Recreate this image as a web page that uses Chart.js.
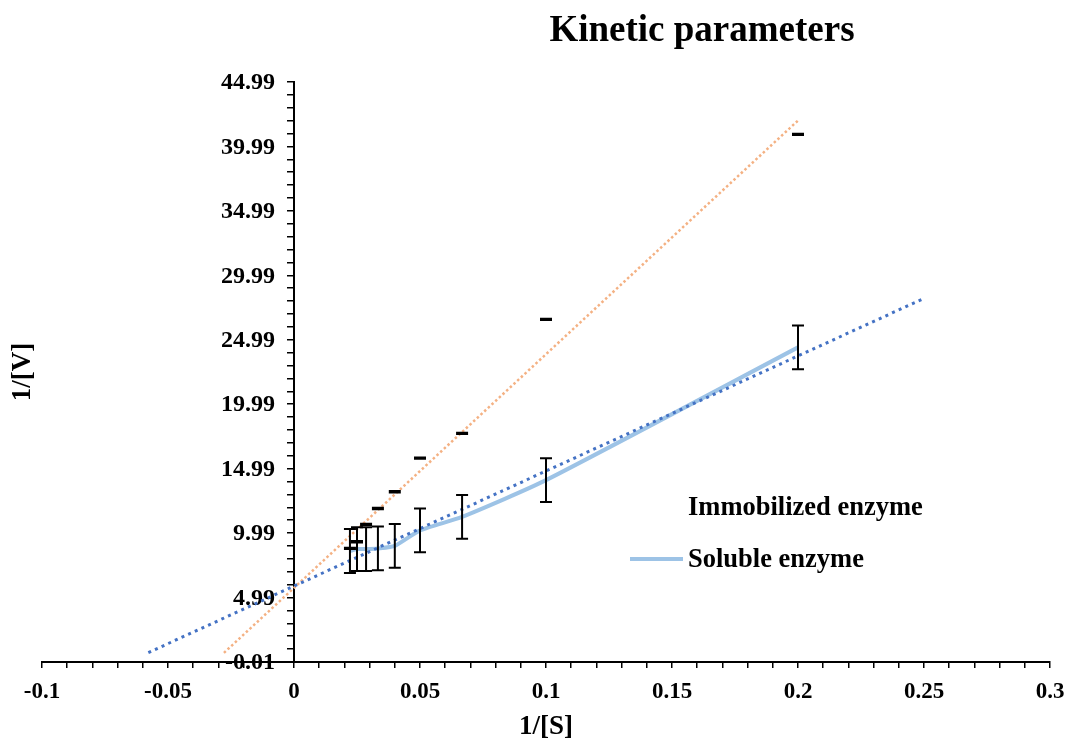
<!DOCTYPE html>
<html>
<head>
<meta charset="utf-8">
<script src="https://cdn.jsdelivr.net/npm/chart.js@4"></script>
<style>
  body { margin: 0; background: #fff; }
  #wrap { width: 1071px; height: 741px; position: relative; }
</style>
</head>
<body>
<div id="wrap"><canvas id="kinetic-chart"></canvas></div>
<script>
// 1/[S] values (S = 45, 40, 35, 30, 25, 20, 15, 10, 5)
const invS = [0.0222, 0.025, 0.0286, 0.0333, 0.04, 0.05, 0.0667, 0.1, 0.2];
const immobilizedInvV = [8.81, 9.32, 10.67, 11.9, 13.2, 15.8, 17.73, 26.58, 40.92];
const immobilizedErr = [0.05, 0.05, 0.05, 0.05, 0.05, 0.05, 0.05, 0.05, 0.05];
const solubleInvV = [8.6, 8.75, 8.75, 8.8, 9.0, 10.2, 11.25, 14.1, 24.4];
const solubleErr = [1.7, 1.7, 1.7, 1.7, 1.7, 1.7, 1.7, 1.7, 1.7];

// trendline ends
const solubleTrendX = [-0.0578, 0.25];
const solubleTrendY = [0.72, 28.2];
const immobilizedTrendX = [-0.0278, 0.2];
const immobilizedTrendY = [0.7, 42.0];

const xTickLabels = ['-0.1', '-0.05', '0', '0.05', '0.1', '0.15', '0.2', '0.25', '0.3'];
const yTickLabels = ['-0.01', '4.99', '9.99', '14.99', '19.99', '24.99', '29.99', '34.99', '39.99', '44.99'];

const serif = "'Liberation Serif', 'Times New Roman', serif";

function toPoints(xs, ys) {
  return xs.map((x, i) => ({ x: x, y: ys[i] }));
}

const errorBars = {
  'Immobilized enzyme': immobilizedErr,
  'Soluble enzyme': solubleErr
};

const extrasPlugin = {
  id: 'extras',
  beforeDatasetsDraw(chart) {
    // y tick labels: the axis sits at x = 0, so Chart.js would glue them to the line
    const ctx = chart.ctx;
    const yScale = chart.scales.y;
    const axisX = chart.scales.x.getPixelForValue(0);
    ctx.save();
    ctx.fillStyle = '#000';
    ctx.font = 'bold 24px ' + serif;
    ctx.textAlign = 'right';
    ctx.textBaseline = 'middle';
    yScale.ticks.forEach((t, i) => {
      if (i % 5 !== 0) return;
      ctx.fillText(yTickLabels[i / 5], axisX - 19, yScale.getPixelForValue(t.value) + 1);
    });
    ctx.restore();
  },
  afterDatasetsDraw(chart) {
    const ctx = chart.ctx;
    const yScale = chart.scales.y;
    ctx.save();
    ctx.strokeStyle = '#000';
    ctx.lineWidth = 2;
    chart.data.datasets.forEach((ds, di) => {
      const errs = errorBars[ds.label];
      if (!errs) return;
      const meta = chart.getDatasetMeta(di);
      meta.data.forEach((pt, i) => {
        const v = ds.data[i].y;
        const top = yScale.getPixelForValue(v + errs[i]);
        const bottom = yScale.getPixelForValue(v - errs[i]);
        ctx.beginPath();
        ctx.moveTo(pt.x, top);
        ctx.lineTo(pt.x, bottom);
        ctx.moveTo(pt.x - 6, top);
        ctx.lineTo(pt.x + 6, top);
        ctx.moveTo(pt.x - 6, bottom);
        ctx.lineTo(pt.x + 6, bottom);
        ctx.stroke();
      });
    });
    ctx.restore();
  },
  afterDraw(chart) {
    const ctx = chart.ctx;
    const area = chart.chartArea;
    ctx.save();
    ctx.fillStyle = '#000';

    // title
    ctx.font = 'bold 37px ' + serif;
    ctx.textAlign = 'center';
    ctx.textBaseline = 'middle';
    ctx.fillText('Kinetic parameters', 702, 31);

    // y axis title
    ctx.font = 'bold 27px ' + serif;
    ctx.translate(23, (area.top + area.bottom) / 2);
    ctx.rotate(-Math.PI / 2);
    ctx.fillText('1/[V]', 0, 0);
    ctx.setTransform(1, 0, 0, 1, 0, 0);

    // legend
    ctx.font = 'bold 26.5px ' + serif;
    ctx.textAlign = 'left';
    ctx.fillText('Immobilized enzyme', 688, 508);
    ctx.fillText('Soluble enzyme', 688, 560);
    ctx.strokeStyle = '#9DC3E6';
    ctx.lineWidth = 4;
    ctx.beginPath();
    ctx.moveTo(630, 559);
    ctx.lineTo(683, 559);
    ctx.stroke();
    ctx.restore();
  }
};

new Chart(document.getElementById('kinetic-chart').getContext('2d'), {
  type: 'scatter',
  data: {
    datasets: [
      {
        label: 'Soluble trend',
        data: toPoints(solubleTrendX, solubleTrendY),
        showLine: true,
        borderColor: '#4472C4',
        borderWidth: 3,
        borderDash: [3, 4.3],
        pointRadius: 0
      },
      {
        label: 'Immobilized trend',
        data: toPoints(immobilizedTrendX, immobilizedTrendY),
        showLine: true,
        borderColor: '#F4B183',
        borderWidth: 2.5,
        borderDash: [2.5, 2.5],
        pointRadius: 0
      },
      {
        label: 'Soluble enzyme',
        data: toPoints(invS, solubleInvV),
        showLine: true,
        borderColor: '#9DC3E6',
        borderWidth: 4,
        tension: 0.2,
        pointRadius: 0
      },
      {
        label: 'Immobilized enzyme',
        data: toPoints(invS, immobilizedInvV),
        showLine: false,
        pointRadius: 0
      }
    ]
  },
  options: {
    responsive: true,
    maintainAspectRatio: false,
    animation: false,
    layout: {
      padding: { left: 42, right: 21, top: 82, bottom: 0 }
    },
    plugins: {
      legend: { display: false },
      title: { display: false },
      tooltip: { enabled: false }
    },
    scales: {
      x: {
        type: 'linear',
        min: -0.1,
        max: 0.3,
        afterBuildTicks: axis => {
          const ticks = [];
          for (let i = 0; i <= 40; i++) {
            ticks.push({ value: Math.round((-0.1 + i * 0.01) * 1000) / 1000 });
          }
          axis.ticks = ticks;
        },
        ticks: {
          autoSkip: false,
          maxRotation: 0,
          padding: 2,
          color: '#000',
          font: { family: serif, size: 23, weight: 'bold', lineHeight: '44px' },
          callback: (value, index) => index % 5 === 0 ? xTickLabels[index / 5] : ''
        },
        grid: { drawOnChartArea: false, tickLength: 6, color: '#000', lineWidth: 1.5 },
        border: { color: '#000', width: 2 },
        title: {
          display: true,
          text: '1/[S]',
          color: '#000',
          font: { family: serif, size: 27, weight: 'bold', lineHeight: 1 },
          padding: { top: -2, bottom: 0 }
        }
      },
      y: {
        type: 'linear',
        position: { x: 0 },
        min: -0.01,
        max: 44.99,
        afterBuildTicks: axis => {
          const ticks = [];
          for (let i = 0; i <= 45; i++) {
            ticks.push({ value: Math.round((-0.01 + i) * 100) / 100 });
          }
          axis.ticks = ticks;
        },
        ticks: {
          display: false,
          autoSkip: false
        },
        grid: { drawOnChartArea: false, tickLength: 6, color: '#000', lineWidth: 1.5 },
        border: { color: '#000', width: 2 }
      }
    }
  },
  plugins: [extrasPlugin]
});
</script>
</body>
</html>
